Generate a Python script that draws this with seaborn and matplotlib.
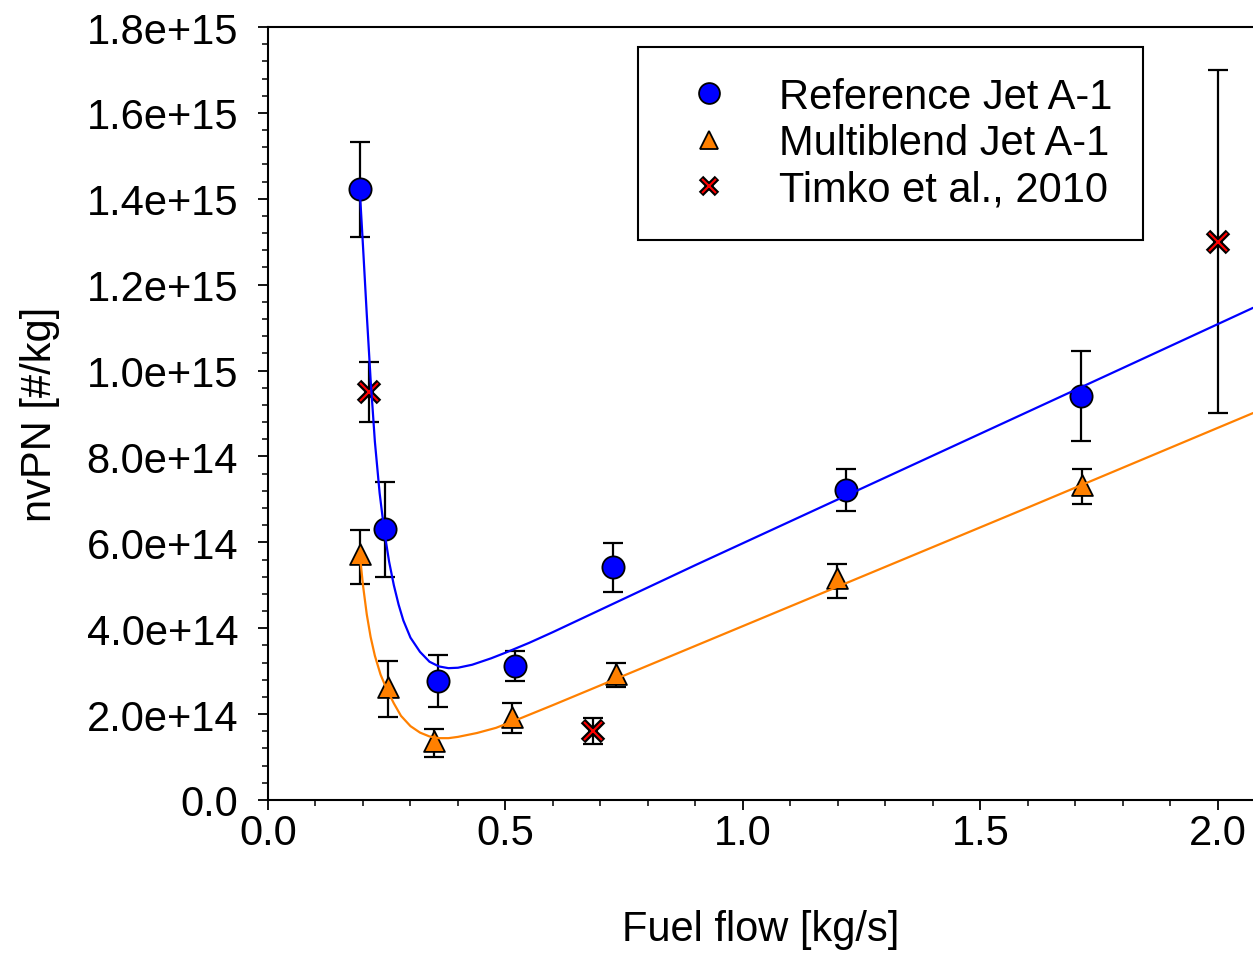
import numpy as np
import pandas as pd
import matplotlib
matplotlib.use("Agg")
import matplotlib.pyplot as plt
import seaborn as sns
from matplotlib.lines import Line2D
from matplotlib.legend_handler import HandlerTuple
from matplotlib.ticker import MultipleLocator, FuncFormatter

SCALE = 1e15

# ---- measured data (values in units of 1e15 #/kg) ----
ref_x = [0.193, 0.246, 0.359, 0.520, 0.727, 1.218, 1.711]
ref_y = [1.423, 0.630, 0.278, 0.311, 0.543, 0.722, 0.941]
ref_hi = [1.532, 0.740, 0.338, 0.346, 0.599, 0.770, 1.045]
ref_lo = [1.311, 0.519, 0.216, 0.276, 0.485, 0.672, 0.837]

mb_x = [0.193, 0.253, 0.350, 0.513, 0.732, 1.199, 1.713]
mb_y = [0.573, 0.262, 0.138, 0.193, 0.293, 0.516, 0.734]
mb_hi = [0.628, 0.323, 0.166, 0.226, 0.318, 0.550, 0.771]
mb_lo = [0.503, 0.193, 0.100, 0.155, 0.264, 0.470, 0.689]

tk_x = [0.213, 0.685, 2.000]
tk_y = [0.950, 0.161, 1.300]
tk_hi = [1.020, 0.190, 1.700]
tk_lo = [0.880, 0.130, 0.901]

# ---- fitted curves ----
ref_fit_x = [0.193, 0.200, 0.208, 0.216, 0.225, 0.235, 0.245, 0.255, 0.265, 0.275,
             0.285, 0.300, 0.320, 0.340, 0.360, 0.380, 0.400, 0.430, 0.470, 0.500,
             0.550, 0.600, 0.700, 0.900, 1.200, 1.500, 1.800, 2.074]
ref_fit_y = [1.425, 1.290, 1.130, 0.980, 0.835, 0.715, 0.625, 0.555, 0.500, 0.455,
             0.418, 0.378, 0.345, 0.322, 0.311, 0.307, 0.308, 0.315, 0.330, 0.343,
             0.366, 0.391, 0.443, 0.547, 0.700, 0.853, 1.006, 1.146]

mb_fit_x = [0.193, 0.200, 0.208, 0.216, 0.225, 0.237, 0.250, 0.265, 0.280, 0.300,
            0.320, 0.340, 0.360, 0.380, 0.400, 0.440, 0.480, 0.520, 0.600, 0.800,
            1.200, 1.600, 2.074]
mb_fit_y = [0.575, 0.500, 0.432, 0.380, 0.336, 0.292, 0.258, 0.225, 0.196, 0.172,
            0.157, 0.148, 0.144, 0.144, 0.147, 0.156, 0.168, 0.185, 0.221, 0.313,
            0.497, 0.681, 0.901]

labels = ["Reference Jet A-1", "Multiblend Jet A-1", "Timko et al., 2010"]
x_ticks = [0.0, 0.5, 1.0, 1.5, 2.0]

BLUE = "#0000FF"
ORANGE = "#FF8000"
RED = "#FF0000"

sns.set_style("ticks")
plt.rcParams["font.family"] = ["Liberation Sans", "DejaVu Sans"]
plt.rcParams["text.color"] = "black"
plt.rcParams["axes.labelcolor"] = "black"
plt.rcParams["xtick.color"] = "black"
plt.rcParams["ytick.color"] = "black"
FS = 30

fig = plt.figure(figsize=(12.53, 9.54), dpi=100)
ax = fig.add_axes([268 / 1253, (954 - 801) / 954, (1253 - 268) / 1253, (801 - 28) / 954])

def sc(v):
    return np.asarray(v) * SCALE

# error bars
for xs, ys, hi, lo in [(ref_x, ref_y, ref_hi, ref_lo), (mb_x, mb_y, mb_hi, mb_lo),
                       (tk_x, tk_y, tk_hi, tk_lo)]:
    y = sc(ys)
    yerr = [y - sc(lo), sc(hi) - y]
    ax.errorbar(xs, y, yerr=yerr, fmt="none", ecolor="black", elinewidth=1.6,
                capsize=7.5, capthick=1.6, zorder=2)

# markers
df_ref = pd.DataFrame({"x": ref_x, "y": sc(ref_y)})
df_mb = pd.DataFrame({"x": mb_x, "y": sc(mb_y)})
df_tk = pd.DataFrame({"x": tk_x, "y": sc(tk_y)})

sns.scatterplot(data=df_ref, x="x", y="y", ax=ax, marker="o", s=16 ** 2,
                color=BLUE, edgecolor="black", linewidth=1.3, zorder=4, legend=False)
sns.scatterplot(data=df_mb, x="x", y="y", ax=ax, marker="^", s=15 ** 2,
                color=ORANGE, edgecolor="black", linewidth=1.3, zorder=4, legend=False)
ax.plot(df_tk["x"], df_tk["y"], linestyle="none", marker="x", markersize=14,
        markeredgewidth=4.6, color="black", zorder=4)
ax.plot(df_tk["x"], df_tk["y"], linestyle="none", marker="x", markersize=13,
        markeredgewidth=1.5, color=RED, zorder=5)

# fitted curves
sns.lineplot(x=ref_fit_x, y=sc(ref_fit_y), ax=ax, color=BLUE, linewidth=1.6,
             sort=False, estimator=None, zorder=6)
sns.lineplot(x=mb_fit_x, y=sc(mb_fit_y), ax=ax, color=ORANGE, linewidth=1.6,
             sort=False, estimator=None, zorder=6)

ax.set_xlim(0, 2.074)
ax.set_ylim(0, 1.8e15)
ax.set_xticks(x_ticks)
ax.xaxis.set_minor_locator(MultipleLocator(0.1))
ax.yaxis.set_major_locator(MultipleLocator(2e14))
ax.yaxis.set_minor_locator(MultipleLocator(4e13))
ax.xaxis.set_major_formatter(FuncFormatter(lambda v, p: f"{v:.1f}"))
ax.yaxis.set_major_formatter(FuncFormatter(lambda v, p: "0.0" if abs(v) < 1 else f"{v:.1e}"))

ax.tick_params(axis="both", which="major", direction="out", length=7.5, width=1.3,
               labelsize=FS, colors="black")
ax.tick_params(axis="both", which="minor", direction="out", length=4, width=1.1)
ax.tick_params(axis="y", which="major", pad=14)
ax.tick_params(axis="x", which="major", pad=2)
ax.tick_params(top=False, right=False, which="both")

for s in ["left", "bottom", "top"]:
    ax.spines[s].set_linewidth(1.5)
    ax.spines[s].set_color("black")
ax.spines["right"].set_visible(False)

ax.set_xlabel("Fuel flow [kg/s]", fontsize=FS, color="black")
ax.set_ylabel("nvPN [#/kg]", fontsize=FS, color="black")
ax.xaxis.set_label_coords(0.5, (801 - 910) / 773)
ax.yaxis.set_label_coords((60 - 268) / 985, 0.5)
ax.xaxis.label.set_va("top")
ax.yaxis.label.set_va("bottom")

# legend
h_ref = Line2D([], [], linestyle="none", marker="o", markersize=15, markerfacecolor=BLUE,
               markeredgecolor="black", markeredgewidth=1.3)
h_mb = Line2D([], [], linestyle="none", marker="^", markersize=13, markerfacecolor=ORANGE,
              markeredgecolor="black", markeredgewidth=1.3)
h_tk1 = Line2D([], [], linestyle="none", marker="x", markersize=11, markeredgewidth=4.5,
               color="black")
h_tk2 = Line2D([], [], linestyle="none", marker="x", markersize=10, markeredgewidth=1.5,
               color=RED)
leg = fig.legend([h_ref, h_mb, (h_tk1, h_tk2)], labels,
                 handler_map={tuple: HandlerTuple(ndivide=1, pad=0)},
                 loc="upper left", bbox_to_anchor=(638 / 1253, 1 - 48 / 954),
                 bbox_transform=fig.transFigure, fontsize=FS, frameon=True,
                 fancybox=False, edgecolor="black", framealpha=1,
                 borderpad=0.72, labelspacing=0.15, handlelength=1.95,
                 handletextpad=0.72, borderaxespad=0)
leg.get_frame().set_linewidth(1.5)
for t in leg.get_texts():
    t.set_color("black")

fig.savefig("out.png", dpi=100, facecolor="white")
